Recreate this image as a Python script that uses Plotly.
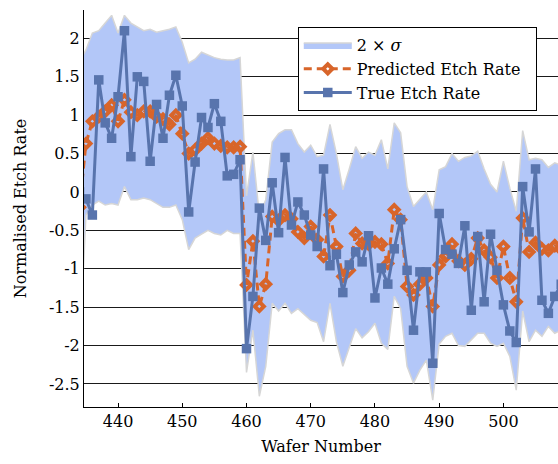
import plotly.graph_objects as go

# ---------------- data ----------------
wafer = list(range(434, 510))

true_rate = [
    0.00, -0.09, -0.30, 1.46, 0.90, 0.70, 1.24, 2.10, 0.46, 1.50,
    1.44, 0.40, 1.14, 0.70, 1.26, 1.52, 1.12, -0.26, 0.39, 0.97,
    0.84, 1.15, 0.92, 0.21, 0.23, 0.42, -2.04, -1.36, -0.21, -0.63,
    0.12, -0.53, 0.45, -0.43, -0.13, -0.30, -0.56, -0.71, 0.30, -0.96,
    -0.81, -1.31, -0.95, -0.78, -0.91, -0.57, -1.38, -0.99, -1.20, -0.74,
    -0.36, -1.02, -1.80, -1.04, -1.04, -2.23, -0.28, -0.75, -0.81, -0.93,
    -0.44, -1.54, -0.58, -1.43, -0.55, -1.02, -1.47, -1.81, -1.96, 0.07,
    -0.52, 0.30, -1.41, -1.58, -1.36, -1.20,
]

pred_rate = [
    -0.20, 0.63, 0.92, 0.98, 1.05, 1.13, 0.92, 1.20, 1.04, 1.00,
    1.05, 1.05, 0.98, 0.95, 0.88, 1.00, 0.76, 0.50, 0.55, 0.63,
    0.70, 0.63, 0.60, 0.58, 0.58, 0.59, -1.21, -0.64, -1.49, -1.20,
    -0.32, -0.37, -0.30, -0.35, -0.52, -0.60, -0.45, -0.62, -0.84, -0.30,
    -0.71, -1.10, -1.02, -0.54, -0.67, -0.68, -0.65, -0.68, -0.93, -0.23,
    -0.36, -1.23, -1.34, -1.20, -1.12, -1.49, -0.95, -0.84, -0.68, -0.90,
    -0.95, -0.87, -0.60, -0.76, -0.85, -1.12, -0.71, -1.12, -1.43, -0.34,
    -0.78, -0.66, -0.74, -0.76, -0.70, -0.75,
]

band_upper = [
    1.70, 1.85, 2.07, 2.10, 2.20, 2.30, 2.07, 2.30, 2.20, 2.15,
    2.10, 2.12, 2.08, 2.10, 2.12, 2.15, 1.95, 1.68, 1.73, 1.82,
    1.78, 1.75, 1.73, 1.72, 1.72, 1.75, -0.05, 0.52, -0.30, -0.10,
    0.65, 0.76, 0.81, 0.81, 0.63, 0.52, 0.61, 0.46, 0.48, 0.88,
    0.50, 0.03, 0.30, 0.59, 0.44, 0.52, 0.48, 0.68, 0.30, 0.90,
    0.77, 0.07, -0.19, -0.10, 0.00, -0.23, 0.29, 0.33, 0.50, 0.40,
    0.45, 0.47, 0.53, 0.30, 0.10, 0.00, 0.40, 0.05, -0.25, 0.80,
    0.42, 0.44, 0.42, 0.32, 0.38, 0.35,
]

band_lower = [
    -2.10, -0.30, -0.17, -0.12, -0.17, -0.15, -0.17, 0.07, -0.10, -0.10,
    -0.08, -0.10, -0.15, -0.20, -0.20, -0.17, -0.36, -0.75, -0.60, -0.55,
    -0.50, -0.54, -0.56, -0.50, -0.54, -0.54, -2.35, -1.80, -2.66, -2.27,
    -1.45, -1.55, -1.45, -1.58, -1.52, -1.60, -1.67, -1.70, -1.95, -1.45,
    -1.95, -2.27, -2.02, -1.78, -1.90, -1.82, -1.71, -1.97, -2.05, -1.36,
    -1.52, -2.27, -2.49, -2.32, -2.19, -2.71, -1.98, -1.88, -1.84, -2.00,
    -2.01, -1.93, -1.84, -1.84, -1.97, -2.01, -1.97, -2.14, -2.58, -1.55,
    -1.95, -1.80, -1.88, -1.75, -1.84, -1.80,
]

x_ticks = [440, 450, 460, 470, 480, 490, 500]
y_ticks = [-2.5, -2, -1.5, -1, -0.5, 0, 0.5, 1, 1.5, 2]
y_tick_text = ["-2.5", "-2", "-1.5", "-1", "-0.5", "0", "0.5", "1", "1.5", "2"]

# ---------------- styling ----------------
BLUE = "#5874ad"
ORANGE = "#d8652a"
BAND = "#b3c7f8"
FONT = "DejaVu Serif"
FS = 16

fig = go.Figure()

fig.add_trace(go.Scatter(
    x=wafer + wafer[::-1],
    y=band_upper + band_lower[::-1],
    fill="toself",
    fillcolor=BAND,
    mode="lines",
    line=dict(color="#d6d6d6", width=1.5),
    name="2 × <i>σ</i>",
    hoverinfo="skip",
))

fig.add_trace(go.Scatter(
    x=wafer, y=pred_rate,
    mode="lines+markers",
    line=dict(color=ORANGE, width=3, dash="8px,5px"),
    marker=dict(symbol="diamond-open", size=7, color=ORANGE,
                line=dict(color=ORANGE, width=4)),
    name="Predicted Etch Rate\u00a0\u00a0",
))

fig.add_trace(go.Scatter(
    x=wafer, y=true_rate,
    mode="lines+markers",
    line=dict(color=BLUE, width=3),
    marker=dict(symbol="square", size=9.5, color=BLUE),
    name="True Etch Rate",
))

fig.update_layout(
    width=558, height=464,
    margin=dict(l=84, r=0, t=10, b=57, autoexpand=False),
    paper_bgcolor="white", plot_bgcolor="white",
    font=dict(family=FONT, size=FS, color="black"),
    showlegend=True,
    legend=dict(
        x=0.451, y=0.957, xanchor="left", yanchor="top",
        bgcolor="white", bordercolor="black", borderwidth=1,
        font=dict(family=FONT, size=FS, color="black"),
        itemwidth=48,
        traceorder="normal",
    ),
)

fig.update_xaxes(
    range=[434.7, 508.5], automargin=False,
    tickmode="array", tickvals=x_ticks,
    ticks="inside", ticklen=4, tickcolor="black", tickwidth=1,
    showline=True, linecolor="black", linewidth=1,
    showgrid=False, zeroline=False,
    title=dict(text="Wafer Number", font=dict(family=FONT, size=FS), standoff=10),
    tickfont=dict(family=FONT, size=FS),
)

fig.update_yaxes(
    range=[-2.8, 2.37], automargin=False,
    tickmode="array", tickvals=y_ticks, ticktext=y_tick_text,
    ticks="", showline=True, linecolor="black", linewidth=1,
    showgrid=True, gridcolor="#1a1a1a", gridwidth=1,
    zeroline=False,
    title=dict(text="Normalised Etch Rate", font=dict(family=FONT, size=FS), standoff=18),
    tickfont=dict(family=FONT, size=FS),
)

fig.write_html(
    "out.html",
    config={"displayModeBar": False},
    post_script="document.body.style.margin='0px';document.body.style.overflow='hidden';",
)
